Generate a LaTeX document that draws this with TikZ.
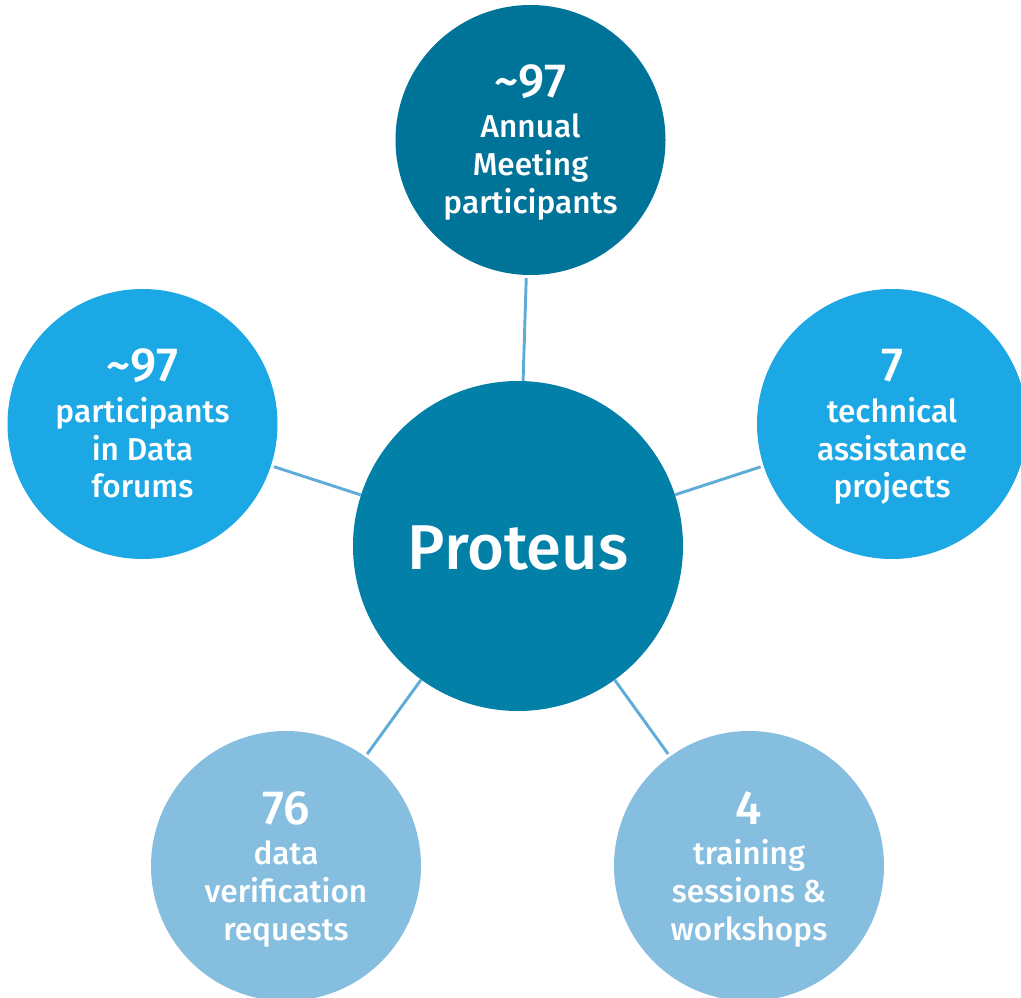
\documentclass[tikz,border=0pt]{standalone}
\usepackage{fontspec}
\setmainfont{Fira Sans}
\newfontfamily\medfont{Fira Sans}[UprightFont={* Medium}]
\usetikzlibrary{calc}
\definecolor{topc}{HTML}{007399}
\definecolor{cenc}{HTML}{0280A8}
\definecolor{midc}{HTML}{1CA8E5}
\definecolor{lowc}{HTML}{86BEE0}
\definecolor{linec}{HTML}{5FACD9}
\newcommand\bubtext[3]{%
  \node[numtxt] (#1-n) at ($(#1)+(0,-42)$) {#2};
  \foreach \t [count=\i] in {#3}
    \node[labtxt] (#1-l\i) at ($(#1)+(0,-40+38*\i)$) {\t};
}
\begin{document}
\begin{tikzpicture}[x=0.75pt,y=-0.75pt,
  bub/.style={circle, inner sep=0pt, draw=none, minimum size=#1},
  conn/.style={draw=linec, line width=2.2pt},
  numtxt/.style={anchor=base, text=white, inner sep=0pt, font=\medfont\fontsize{36}{40}\selectfont},
  labtxt/.style={anchor=base, text=white, inner sep=0pt, font=\medfont\fontsize{23.7}{28}\selectfont}]
\useasboundingbox (0,0) rectangle (1021,998);
\node[bub=247.5pt, fill=cenc] (c) at (518,546) {};
\node[bub=202.5pt, fill=topc] (top) at (530.5,140) {};
\node[bub=202.5pt, fill=midc] (lft) at (142.5,424) {};
\node[bub=202.5pt, fill=midc] (rgt) at (892,424) {};
\node[bub=202.5pt, fill=lowc] (bl) at (286,866) {};
\node[bub=202.5pt, fill=lowc] (br) at (749,866) {};
\foreach \n in {top,lft,rgt,bl,br}
  \draw[conn, shorten <=2.2pt] (\n) -- (c);
\node[anchor=base, text=white, inner sep=0pt, font=\medfont\fontsize{47.5}{56}\selectfont] (ctext) at ($(c)+(0,23)$) {Proteus};
\bubtext{top}{\textasciitilde 97}{Annual,Meeting,participants}
\bubtext{lft}{\textasciitilde 97}{participants,in Data,forums}
\bubtext{rgt}{7}{technical,assistance,projects}
\bubtext{bl}{76}{data,verification,requests}
\bubtext{br}{4}{training,sessions \&,workshops}
\end{tikzpicture}
\end{document}
